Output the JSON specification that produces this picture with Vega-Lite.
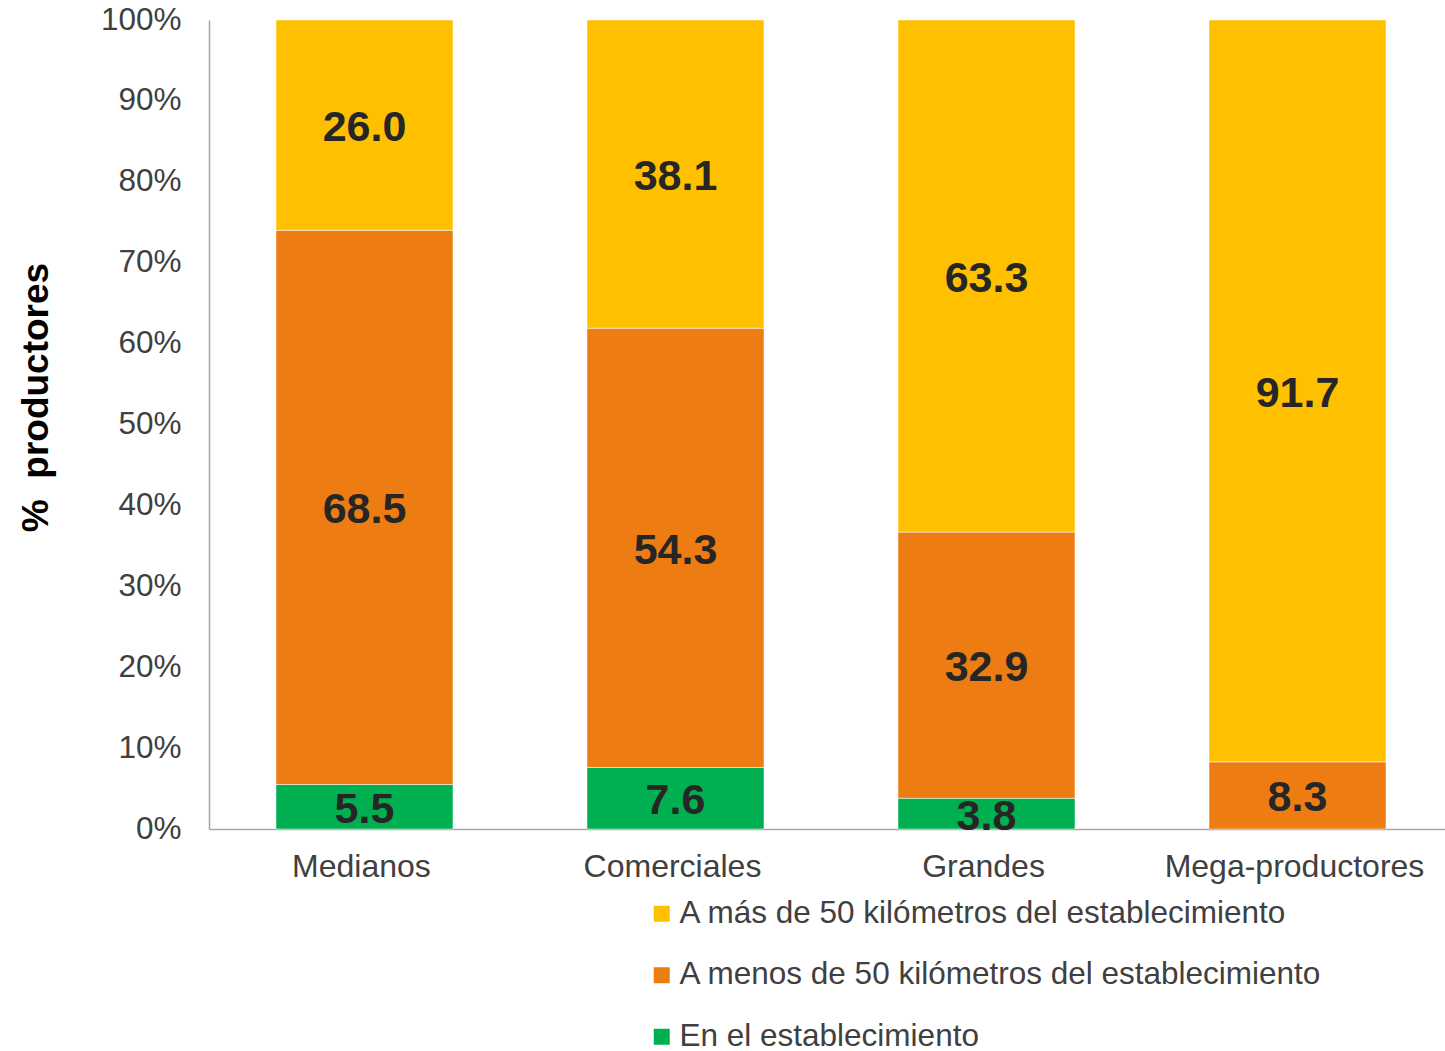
{
  "$schema": "https://vega.github.io/schema/vega-lite/v6.json",
  "autosize": "none",
  "width": 1244,
  "height": 809,
  "padding": {"left": 209, "top": 20, "right": 0, "bottom": 222},
  "background": "white",
  "config": {
    "font": "Liberation Sans",
    "view": {"stroke": null}
  },
  "data": {
    "values": [
      {"grupo": "Medianos", "destino": "En el establecimiento", "orden": 1, "valor": 5.5},
      {"grupo": "Medianos", "destino": "A menos de 50 kilómetros del establecimiento", "orden": 2, "valor": 68.5},
      {"grupo": "Medianos", "destino": "A más de 50 kilómetros del establecimiento", "orden": 3, "valor": 26.0},
      {"grupo": "Comerciales", "destino": "En el establecimiento", "orden": 1, "valor": 7.6},
      {"grupo": "Comerciales", "destino": "A menos de 50 kilómetros del establecimiento", "orden": 2, "valor": 54.3},
      {"grupo": "Comerciales", "destino": "A más de 50 kilómetros del establecimiento", "orden": 3, "valor": 38.1},
      {"grupo": "Grandes", "destino": "En el establecimiento", "orden": 1, "valor": 3.8},
      {"grupo": "Grandes", "destino": "A menos de 50 kilómetros del establecimiento", "orden": 2, "valor": 32.9},
      {"grupo": "Grandes", "destino": "A más de 50 kilómetros del establecimiento", "orden": 3, "valor": 63.3},
      {"grupo": "Mega-productores", "destino": "A menos de 50 kilómetros del establecimiento", "orden": 2, "valor": 8.3},
      {"grupo": "Mega-productores", "destino": "A más de 50 kilómetros del establecimiento", "orden": 3, "valor": 91.7}
    ]
  },
  "transform": [
    {"stack": "valor", "groupby": ["grupo"], "sort": [{"field": "orden", "order": "ascending"}], "as": ["v0", "v1"]},
    {"calculate": "(datum.v0 + datum.v1) / 2", "as": "vmid"}
  ],
  "encoding": {
    "x": {
      "field": "grupo",
      "type": "nominal",
      "sort": ["Medianos", "Comerciales", "Grandes", "Mega-productores"],
      "scale": {"paddingInner": 0.4309, "paddingOuter": 0.2154},
      "axis": {
        "title": null,
        "labelAngle": 0,
        "labelFontSize": 32,
        "labelColor": "#404040",
        "labelPadding": 22,
        "labelLimit": 400,
        "labelOffset": -3,
        "ticks": false,
        "domainColor": "#A6A6A6",
        "domainWidth": 1.5
      }
    }
  },
  "layer": [
    {
      "mark": {"type": "bar", "stroke": "#ffffff", "strokeWidth": 0.5},
      "encoding": {
        "y": {
          "field": "v0",
          "type": "quantitative",
          "scale": {"domain": [0, 100], "nice": false},
          "axis": {
            "title": "%\u00a0\u00a0productores",
            "titleFontSize": 37,
            "titleFontWeight": "bold",
            "titleColor": "#000000",
            "titleAngle": -90,
            "titleX": -173,
            "titleY": 377,
            "titleAlign": "center",
            "titleBaseline": "middle",
            "values": [0, 10, 20, 30, 40, 50, 60, 70, 80, 90, 100],
            "labelExpr": "datum.value + '%'",
            "labelFontSize": 31.5,
            "labelColor": "#404040",
            "labelPadding": 28,
            "ticks": false,
            "grid": false,
            "domainColor": "#A6A6A6",
            "domainWidth": 1.5
          }
        },
        "y2": {"field": "v1"},
        "color": {
          "field": "destino",
          "type": "nominal",
          "scale": {
            "domain": ["A más de 50 kilómetros del establecimiento", "A menos de 50 kilómetros del establecimiento", "En el establecimiento"],
            "range": ["#FFC000", "#ED7D12", "#00B050"]
          },
          "legend": {
            "title": null,
            "orient": "none",
            "legendX": 437,
            "legendY": 878,
            "symbolType": "square",
            "symbolSize": 256,
            "symbolStrokeWidth": 0,
            "labelFontSize": 31.5,
            "labelColor": "#404040",
            "labelOffset": 2,
            "labelLimit": 900,
            "rowPadding": 28.5
          }
        }
      }
    },
    {
      "mark": {"type": "text", "fontSize": 43, "fontWeight": "bold", "color": "#262626", "baseline": "middle", "dy": 3},
      "encoding": {
        "y": {"field": "vmid", "type": "quantitative"},
        "text": {"field": "valor", "type": "quantitative", "format": ".1f"}
      }
    }
  ]
}
